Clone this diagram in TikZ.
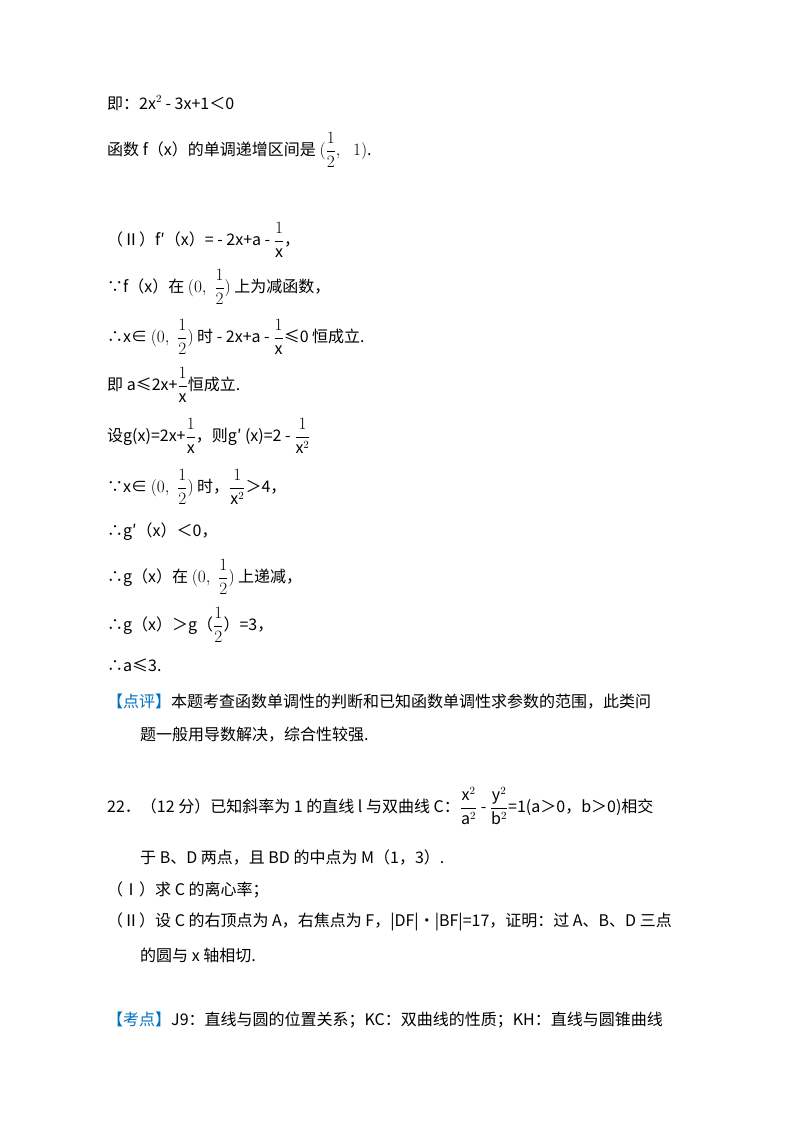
\documentclass[tikz,border=0pt]{standalone}
\usepackage{fontspec}
\setmainfont{Noto Sans CJK SC}
\definecolor{kblue}{RGB}{0,112,192}
\newcommand{\fr}[2]{{\displaystyle\frac{#1}{#2}}}
\begin{document}
\begin{tikzpicture}[x=1pt,y=-1pt,txt/.style={anchor=west,inner sep=0pt,font=\fontsize{16}{19}\selectfont}]
\useasboundingbox (0,0) rectangle (800,1132);
\node[txt] (l1) at (107,103) {即：2x$^2$ - 3x+1＜0};
\node[txt] (l2) at (107,150) {函数 f（x）的单调递增区间是 $(\fr{1}{2},\;\;1)$.};
\node[txt] (l3) at (107,240) {（Ⅱ）f′（x）= - 2x+a - $\fr{1}{\mathrm{x}}$，};
\node[txt] (l4) at (107,287) {∵f（x）在 $(0,\;\fr{1}{2})$ 上为减函数，};
\node[txt] (l5) at (107,337) {∴x∈ $(0,\;\fr{1}{2})$ 时 - 2x+a - $\fr{1}{\mathrm{x}}$≤0 恒成立.};
\node[txt] (l6) at (107,385) {即 a≤2x+$\fr{1}{\mathrm{x}}$恒成立.};
\node[txt] (l7) at (107,436) {设g(x)=2x+$\fr{1}{\mathrm{x}}$，则g′ (x)=2 - $\fr{1}{\mathrm{x}^2}$};
\node[txt] (l8) at (107,487) {∵x∈ $(0,\;\fr{1}{2})$ 时，$\fr{1}{\mathrm{x}^2}$＞4，};
\node[txt] (l9) at (107,532) {∴g′（x）＜0，};
\node[txt] (l10) at (107,577) {∴g（x）在 $(0,\;\fr{1}{2})$ 上递减，};
\node[txt] (l11) at (107,625) {∴g（x）＞g（$\fr{1}{2}$）=3，};
\node[txt] (l12) at (107,665) {∴a≤3.};
\node[txt] (l13) at (107,702) {\textcolor{kblue}{【点评】}本题考查函数单调性的判断和已知函数单调性求参数的范围，此类问};
\node[txt] (l14) at (140,735) {题一般用导数解决，综合性较强.};
\node[txt] (l15) at (107,806) {22．（12 分）已知斜率为 1 的直线 l 与双曲线 C：$\fr{\mathrm{x}^2}{\mathrm{a}^2}$ - $\fr{\mathrm{y}^2}{\mathrm{b}^2}$=1(a＞0，b＞0)相交};
\node[txt] (l16) at (140,857) {于 B、D 两点，且 BD 的中点为 M（1，3）.};
\node[txt] (l17) at (107,890) {（Ⅰ）求 C 的离心率；};
\node[txt] (l18) at (107,922) {（Ⅱ）设 C 的右顶点为 A，右焦点为 F，|DF|•|BF|=17，证明：过 A、B、D 三点};
\node[txt] (l19) at (140,955) {的圆与 x 轴相切.};
\node[txt] (l20) at (107,1020) {\textcolor{kblue}{【考点】}J9：直线与圆的位置关系；KC：双曲线的性质；KH：直线与圆锥曲线};
\end{tikzpicture}
\end{document}
